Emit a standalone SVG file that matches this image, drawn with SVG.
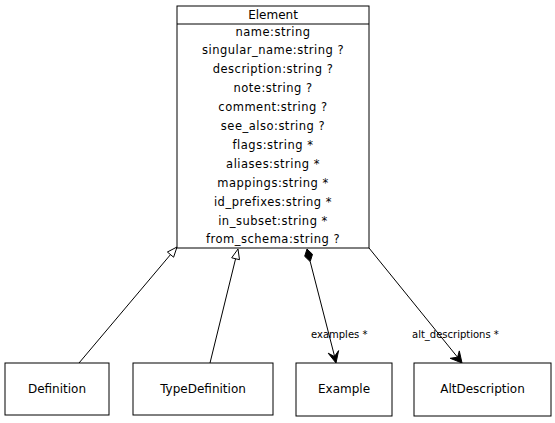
<svg xmlns="http://www.w3.org/2000/svg" width="555" height="423" viewBox="0 0 555 423">
<style>
.box{fill:#fff;stroke:#000;stroke-width:1}
.t{font-family:"DejaVu Sans",sans-serif;font-size:12px;fill:#000;text-anchor:middle}
.a{font-family:"DejaVu Sans",sans-serif;font-size:11.5px;letter-spacing:0.5px;fill:#000;text-anchor:middle}
.l{font-family:"DejaVu Sans",sans-serif;font-size:10px;fill:#000}
.e{stroke:#000;stroke-width:1;fill:none}
.hollow{fill:#fff;stroke:#000;stroke-width:1}
.solid{fill:#000;stroke:#000;stroke-width:1}
</style>
<rect width="555" height="423" fill="#fff"/>
<g id="connectors">
<line class="e" x1="79" y1="363" x2="170.5" y2="254.6"/>
<polygon class="hollow" points="177,247 173.6,257.2 167.4,252"/>
<line class="e" x1="210" y1="363" x2="235.6" y2="258.7"/>
<polygon class="hollow" points="238,249 239.5,259.7 231.7,257.8"/>
<line class="e" x1="310.2" y1="261.6" x2="335" y2="358"/>
<polygon class="solid" points="307,249 312.5,254.3 310.2,261.6 304.7,256.3"/>
<polygon class="solid" points="336,363 338.6,350.6 334.5,356.5 328.2,353.2"/>
<text class="l" x="311" y="338">examples *</text>
<line class="e" x1="369" y1="248" x2="459" y2="359"/>
<polygon class="solid" points="462,363 459.3,350.9 457.6,357.2 450.2,358.3"/>
<text class="l" x="412" y="338">alt_descriptions *</text>
</g>
<g id="Element">
<rect class="box" x="177" y="6" width="192" height="242"/>
<line class="e" x1="177" y1="24" x2="369" y2="24"/>
<text class="t" x="273" y="18.5">Element</text>
<text class="a" x="273" y="35.5">name:string</text>
<text class="a" x="273" y="54.4">singular_name:string ?</text>
<text class="a" x="273" y="73.3">description:string ?</text>
<text class="a" x="273" y="92.2">note:string ?</text>
<text class="a" x="273" y="111.1">comment:string ?</text>
<text class="a" x="273" y="130">see_also:string ?</text>
<text class="a" x="273" y="148.9">flags:string *</text>
<text class="a" x="273" y="167.8">aliases:string *</text>
<text class="a" x="273" y="186.7">mappings:string *</text>
<text class="a" x="273" y="205.6">id_prefixes:string *</text>
<text class="a" x="273" y="224.5">in_subset:string *</text>
<text class="a" x="273" y="243.4">from_schema:string ?</text>
</g>
<g id="Definition">
<rect class="box" x="5" y="363" width="104" height="52"/>
<text class="t" x="57" y="393">Definition</text>
</g>
<g id="TypeDefinition">
<rect class="box" x="133" y="363" width="140" height="52"/>
<text class="t" x="203" y="393">TypeDefinition</text>
</g>
<g id="Example">
<rect class="box" x="296" y="363" width="96" height="53"/>
<text class="t" x="344" y="393">Example</text>
</g>
<g id="AltDescription">
<rect class="box" x="414" y="363" width="137" height="53"/>
<text class="t" x="482.5" y="393">AltDescription</text>
</g>
</svg>
